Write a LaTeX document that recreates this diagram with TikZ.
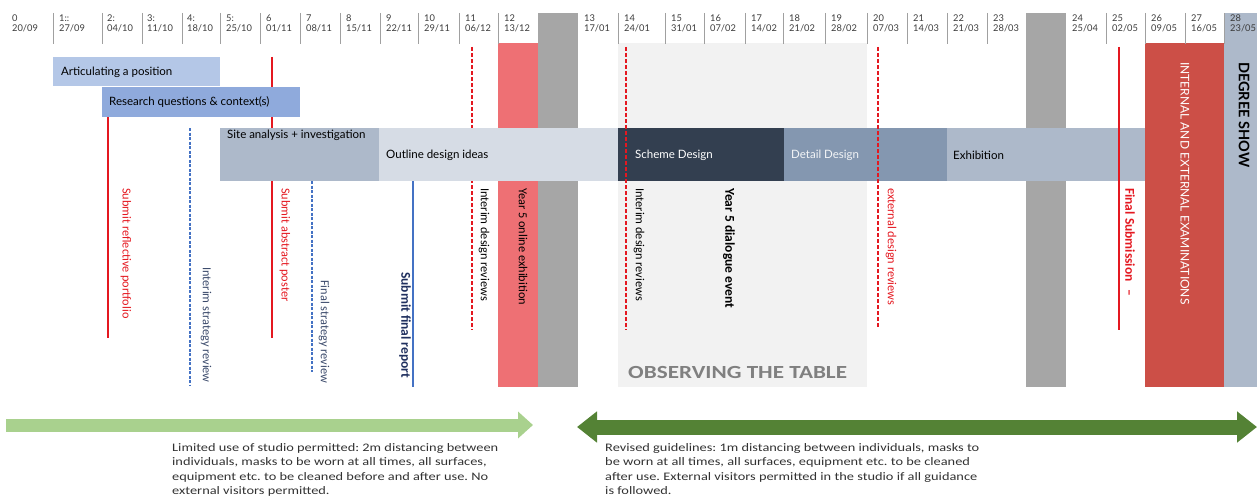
\documentclass[tikz,border=0pt]{standalone}
\usepackage{fontspec}
\setmainfont{Carlito}
\newfontfamily\gillfont{Lato}
\newfontfamily\widefont[FakeStretch=1.25]{Carlito}
\usetikzlibrary{arrows.meta, positioning}

\definecolor{weekgrey}{RGB}{60,60,60}
\definecolor{sepgrey}{RGB}{160,160,160}
\definecolor{articblue}{RGB}{180,199,231}
\definecolor{researchblue}{RGB}{143,170,220}
\definecolor{siteblue}{RGB}{173,185,202}
\definecolor{outlinegrey}{RGB}{214,220,229}
\definecolor{schemenavy}{RGB}{51,63,80}
\definecolor{detailslate}{RGB}{132,151,176}
\definecolor{yearred}{RGB}{238,112,116}
\definecolor{examred}{RGB}{204,79,71}
\definecolor{blockgrey}{RGB}{166,166,166}
\definecolor{tablegrey}{RGB}{242,242,242}
\definecolor{lightgreen}{RGB}{169,209,142}
\definecolor{darkgreen}{RGB}{84,130,53}
\definecolor{markred}{RGB}{228,24,32}
\definecolor{lineblue}{RGB}{68,114,196}
\definecolor{navytext}{RGB}{31,47,94}
\definecolor{labelblue}{RGB}{59,74,107}
\definecolor{notegrey}{RGB}{50,50,50}

\frenchspacing
\begin{document}
\begin{tikzpicture}[x=1pt, y=-1pt,
  week/.style={anchor=west, font=\gillfont\fontsize{9.3}{10}\selectfont, text=weekgrey, inner sep=0pt},
  barlabel/.style={anchor=west, font=\gillfont\fontsize{11.5}{13}\selectfont, inner sep=0pt},
  vlabel/.style={rotate=-90, anchor=west, font=\fontsize{12.3}{14}\selectfont, inner sep=0pt},
  boldlabel/.style={vlabel, font=\bfseries\fontsize{13.5}{15}\selectfont},
  note/.style={anchor=north west, align=left, font=\widefont\fontsize{11.5}{14.6}\selectfont, text=notegrey, inner sep=0pt},
  sepline/.style={sepgrey, line width=1pt},
  milestone/.style={markred, line width=1.6pt},
  review/.style={markred, line width=2.4pt, dash pattern=on 4pt off 2pt},
  strategy/.style={lineblue, line width=1.1pt, dash pattern=on 3pt off 1.5pt}]
  \useasboundingbox (0,0) rectangle (1257,500);

  % Background blocks
  \fill[tablegrey] (618,43) rectangle (867,387);
  \fill[yearred] (498,43) rectangle (538,387);
  \fill[blockgrey] (538,13) rectangle (578,387);
  \fill[blockgrey] (1026,13) rectangle (1066,387);
  \fill[examred] (1145,43) rectangle (1224,387);
  \fill[siteblue] (1224,13) rectangle (1257,387);

  % Week headers
  \foreach \x in {53,102,142,182,220,260,300,340,380,418,459,498,618,665,704,745,783,825,867,907,947,987,1106,1145,1185,1224}
    \draw[sepline] (\x,13) -- (\x,44);
  \foreach \x/\w/\dd/\mm [count=\i] in {12/0/20/09, 59/1::/27/09, 107/2:/04/10, 147/3:/11/10, 187/4:/18/10,
      226/5:/25/10, 266/6/01/11, 306/7/08/11, 346/8/15/11, 386/9/22/11, 424/10/29/11, 465/11/06/12,
      504/12/13/12, 584/13/17/01, 624/14/24/01, 671/15/31/01, 710/16/07/02, 751/17/14/02, 789/18/21/02,
      831/19/28/02, 873/20/07/03, 913/21/14/03, 953/22/21/03, 993/23/28/03, 1072/24/25/04, 1112/25/02/05,
      1151/26/09/05, 1191/27/16/05, 1230/28/23/05} {
    \node[week] (wk\i) at (\x,18) {\w};
    \node[week] (dt\i) at (\x,28) {\dd/\mm};
  }

  % Milestones behind the bars
  \draw[milestone] (108,117) -- (108,338);
  \draw[milestone] (272,57) -- (272,338);
  \draw[strategy] (190,128) -- (190,385);
  \draw[strategy] (312,181) -- (312,372);
  \draw[lineblue, line width=1.2pt] (413,181) -- (413,387);
  \draw[review] (472,47) -- (472,330);

  % Stage bars
  \fill[articblue] (53,57) rectangle (220,86);
  \node[barlabel] (artic) at (61,72) {Articulating a position};
  \fill[researchblue] (102,87) rectangle (300,117);
  \node[barlabel] (research) at (109,102) {Research questions \& context(s)};
  \fill[siteblue] (220,128) rectangle (379,181);
  \node[barlabel] (site) at (227,135) {Site analysis + investigation};
  \fill[outlinegrey] (379,128) rectangle (618,181);
  \node[barlabel] (outline) at (386,155) {Outline design ideas};
  \fill[schemenavy] (618,128) rectangle (784,181);
  \node[barlabel, text=white] (scheme) at (635,155) {Scheme Design};
  \fill[detailslate] (784,128) rectangle (947,181);
  \node[barlabel, text=white!90!detailslate] (detail) at (791,155) {Detail Design};
  \fill[siteblue] (947,128) rectangle (1145,181);
  \node[barlabel] (exhib) at (953,155) {Exhibition};

  % Milestones in front of the bars
  \draw[review] (626,47) -- (626,330);
  \draw[review] (878,47) -- (878,328);
  \draw[milestone] (1119,47) -- (1119,330);

  % Vertical labels
  \node[vlabel, text=markred] (portfolio) at (126,188) {Submit reflective portfolio};
  \node[vlabel, text=labelblue] (intstrat) at (206,267) {Interim strategy review};
  \node[vlabel, text=markred] (poster) at (285,188) {Submit abstract poster};
  \node[vlabel, text=labelblue] (finstrat) at (324,280) {Final strategy review};
  \node[boldlabel, text=navytext] (report) at (405,272) {Submit final report};
  \node[vlabel] (intdes1) at (484,188) {Interim design reviews};
  \node[vlabel] (online) at (523,188) {Year 5 online exhibition};
  \node[vlabel] (intdes2) at (639,188) {Interim design reviews};
  \node[boldlabel] (dialogue) at (729,188) {Year 5 dialogue event};
  \node[vlabel, text=markred] (extdes) at (891,188) {external design reviews};
  \node[boldlabel, text=markred] (final) at (1130,188) {Final Submission\hspace{8pt}--};
  \node[vlabel, text=white, font=\gillfont\fontsize{12}{14}\selectfont] (exams) at (1185,62) {INTERNAL AND EXTERNAL EXAMINATIONS};
  \node[vlabel, font=\gillfont\bfseries\fontsize{14.5}{16}\selectfont] (degree) at (1244,62) {DEGREE SHOW};
  \node[anchor=west, text=black!50, font=\widefont\bfseries\fontsize{18.5}{20}\selectfont, inner sep=0pt] (observe) at (628,372) {OBSERVING THE TABLE};

  % Guidance arrows
  \coordinate (lgstart) at (6,425);
  \coordinate (lgend) at (533,425);
  \coordinate (dgstart) at (577,427);
  \coordinate (dgend) at (1257,427);
  \draw[lightgreen, line width=13pt, -{Triangle[length=15pt, width=26pt]}] (lgstart) -- (lgend);
  \draw[darkgreen, line width=15pt, {Triangle[length=20pt, width=30pt]}-{Triangle[length=20pt, width=30pt]}] (dgstart) -- (dgend);

  % Notes
  \node[note] (oldrules) at (172,443) {Limited use of studio permitted: 2m distancing between\\
    individuals, masks to be worn at all times, all surfaces,\\
    equipment etc. to be cleaned before and after use. No\\
    external visitors permitted.};
  \node[note] (newrules) at (605,443) {Revised guidelines: 1m distancing between individuals, masks to\\
    be worn at all times, all surfaces, equipment etc. to be cleaned\\
    after use. External visitors permitted in the studio if all guidance\\
    is followed.};
\end{tikzpicture}
\end{document}
